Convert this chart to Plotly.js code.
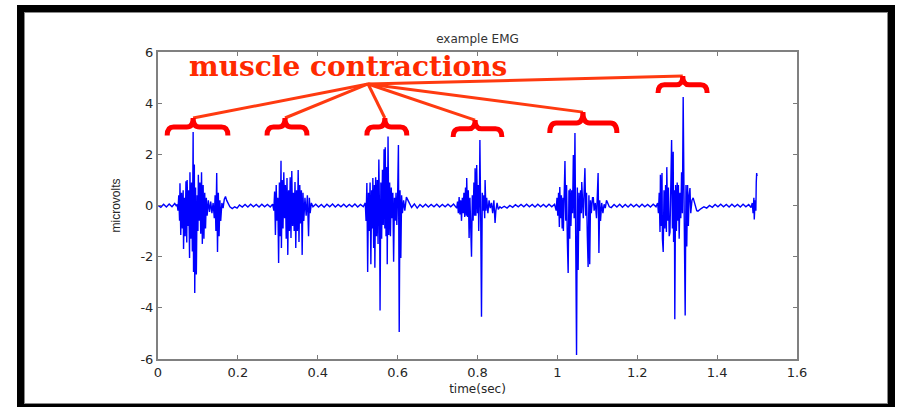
<!DOCTYPE html>
<html>
<head>
<meta charset="utf-8">
<script src="https://cdn.plot.ly/plotly-3.0.1.min.js"></script>
<style>
  html, body { margin: 0; padding: 0; background: #ffffff; }
  #wrap { position: relative; width: 901px; height: 407px; overflow: hidden; }
  #chart { position: absolute; left: 0; top: 0; width: 901px; height: 407px; }
  #frame {
    position: absolute; left: 17px; top: 5px; width: 878px; height: 406px;
    box-sizing: border-box; border: 7px solid #000000;
    box-shadow: inset 0 0 0 1px #8a8a8a; pointer-events: none;
  }
</style>
</head>
<body>
<div id="wrap">
  <div id="chart"></div>
  <div id="frame"></div>
</div>
<script>
// ---- EMG signal: [time (sec), microvolts] ----
const rest0 = [[0.000,0.00],[0.007,-0.07],[0.014,0.05],[0.021,-0.06],[0.028,0.06],[0.035,-0.05],[0.042,0.08],[0.046,-0.02]];
const burst1 = [[0.048,0.05],[0.050,-0.2],[0.052,0.4],[0.054,-0.6],[0.055,0.87],[0.057,-1.15],[0.059,0.5],[0.061,-0.9],[0.063,0.6],[0.064,-1.7],[0.066,0.3],[0.068,-1.2],[0.070,0.95],[0.072,-1.45],[0.073,1.0],[0.075,-0.8],[0.077,0.6],[0.079,-2.05],[0.080,1.3],[0.082,-1.3],[0.084,0.9],[0.086,-1.8],[0.088,2.87],[0.089,-2.6],[0.091,1.6],[0.092,-3.42],[0.094,0.7],[0.096,-2.7],[0.098,0.4],[0.100,-1.0],[0.101,1.2],[0.103,-0.6],[0.105,0.9],[0.107,-1.1],[0.109,1.3],[0.111,-1.5],[0.113,0.8],[0.115,-1.3],[0.117,0.5],[0.119,-0.9],[0.121,0.3],[0.123,-0.4],[0.126,0.2],[0.129,-0.25],[0.132,0.15],[0.135,-0.3],[0.138,0.1],[0.141,-0.5],[0.143,0.4],[0.145,-1.0],[0.147,1.27],[0.149,-1.82],[0.151,0.5],[0.153,-1.2],[0.155,0.2],[0.157,-0.6],[0.160,0.1],[0.163,-0.1],[0.166,0.25],[0.169,0.35],[0.172,0.2],[0.176,0.05]];
const rest1 = [[0.180,-0.05],[0.186,-0.12],[0.192,-0.05],[0.198,-0.1],[0.204,0.02],[0.211,-0.06],[0.218,0.04],[0.225,-0.06],[0.232,0.05],[0.239,-0.05],[0.246,0.04],[0.253,-0.06],[0.260,0.05],[0.267,-0.05],[0.274,0.04],[0.281,-0.06],[0.287,0.05]];
const burst2 = [[0.290,-0.2],[0.292,0.55],[0.294,-1.15],[0.296,0.8],[0.298,-0.6],[0.300,0.3],[0.302,-2.25],[0.304,0.9],[0.306,-1.2],[0.308,1.75],[0.309,-1.66],[0.311,1.0],[0.313,-0.9],[0.315,1.3],[0.317,-0.5],[0.319,0.8],[0.321,-1.3],[0.323,1.07],[0.325,-1.93],[0.327,0.6],[0.329,-1.0],[0.331,1.1],[0.333,-1.27],[0.335,1.35],[0.337,-0.8],[0.339,0.5],[0.341,-1.0],[0.343,0.92],[0.345,-1.66],[0.347,0.6],[0.349,-1.0],[0.351,1.39],[0.353,-1.43],[0.355,0.8],[0.357,-0.7],[0.359,0.6],[0.361,-1.93],[0.363,0.5],[0.365,-0.6],[0.368,0.3],[0.371,-0.4],[0.374,0.4],[0.377,-1.2],[0.379,0.3],[0.381,-0.3],[0.384,0.1],[0.388,-0.05]];
const rest2 = [[0.395,0.05],[0.402,-0.06],[0.409,0.04],[0.416,-0.07],[0.423,0.05],[0.430,-0.05],[0.437,0.06],[0.444,-0.06],[0.451,0.04],[0.458,-0.05],[0.465,0.05],[0.472,-0.06],[0.479,0.04],[0.486,-0.05],[0.493,0.06],[0.500,-0.06],[0.507,0.04],[0.514,-0.05]];
const burst3 = [[0.519,0.1],[0.521,-0.6],[0.523,0.88],[0.525,-2.6],[0.527,0.5],[0.529,-1.0],[0.531,0.9],[0.533,-2.3],[0.535,0.6],[0.537,-0.9],[0.538,1.07],[0.540,-1.66],[0.542,0.8],[0.543,-2.43],[0.545,1.1],[0.547,-1.2],[0.549,1.0],[0.551,-1.5],[0.553,1.8],[0.555,-0.8],[0.556,-4.1],[0.558,0.9],[0.560,-1.3],[0.562,1.4],[0.564,-0.76],[0.566,2.2],[0.568,-0.9],[0.569,2.28],[0.571,-1.2],[0.573,1.5],[0.574,-2.3],[0.576,2.7],[0.578,-1.15],[0.580,0.9],[0.582,-1.2],[0.584,0.7],[0.586,-0.5],[0.588,0.5],[0.590,-2.2],[0.592,0.3],[0.594,-0.6],[0.596,0.5],[0.598,-0.76],[0.600,0.4],[0.602,2.36],[0.604,-4.94],[0.606,0.6],[0.608,-2.05],[0.610,0.4],[0.612,-0.3],[0.615,0.2],[0.618,-0.2],[0.622,0.33],[0.626,0.2],[0.630,0.05]];
const rest3 = [[0.635,-0.08],[0.642,0.06],[0.649,-0.1],[0.656,0.04],[0.663,-0.06],[0.670,0.05],[0.677,-0.06],[0.684,0.04],[0.691,-0.05],[0.698,0.05],[0.705,-0.06],[0.712,0.04],[0.719,-0.05],[0.726,0.05],[0.733,-0.05],[0.740,0.06],[0.745,-0.03]];
const burst4 = [[0.748,-0.1],[0.750,0.15],[0.752,-0.3],[0.754,0.33],[0.756,-0.35],[0.758,0.2],[0.760,-0.6],[0.762,0.3],[0.764,-0.3],[0.766,0.5],[0.768,-0.45],[0.770,0.7],[0.772,-0.4],[0.773,1.07],[0.775,-0.45],[0.777,0.6],[0.779,-1.27],[0.781,0.3],[0.783,-0.8],[0.785,-2.0],[0.787,0.4],[0.789,-0.6],[0.791,0.9],[0.793,-0.4],[0.794,1.46],[0.796,-0.4],[0.798,1.58],[0.800,-0.3],[0.802,0.8],[0.803,-1.0],[0.805,0.6],[0.806,2.56],[0.808,-0.5],[0.810,-4.35],[0.812,0.5],[0.814,-0.2],[0.816,0.4],[0.818,-0.5],[0.819,1.0],[0.821,-0.2],[0.823,0.3],[0.826,-0.3],[0.829,0.2],[0.832,-0.1],[0.835,0.1],[0.838,-0.3],[0.841,0.2],[0.844,-0.68],[0.846,-0.2],[0.849,0.1],[0.852,-0.15],[0.856,-0.05]];
const rest4 = [[0.860,-0.1],[0.867,-0.03],[0.874,-0.1],[0.881,0.0],[0.888,-0.07],[0.895,0.03],[0.902,-0.05],[0.909,0.04],[0.916,-0.05],[0.923,0.05],[0.930,-0.05],[0.937,0.04],[0.944,-0.06],[0.951,0.05],[0.958,-0.05],[0.965,0.04],[0.972,-0.06],[0.979,0.05],[0.986,-0.05],[0.993,0.05]];
const burst5 = [[0.997,-0.2],[0.999,0.3],[1.001,-0.4],[1.003,0.5],[1.005,-0.84],[1.006,0.72],[1.008,-0.5],[1.010,0.4],[1.012,-0.9],[1.014,0.3],[1.015,-1.0],[1.017,0.9],[1.019,1.74],[1.021,-0.6],[1.023,0.8],[1.025,-1.4],[1.027,-2.64],[1.029,0.6],[1.031,-1.3],[1.032,0.65],[1.034,-0.8],[1.036,0.6],[1.038,-0.3],[1.040,1.97],[1.042,-0.5],[1.044,2.83],[1.046,-0.8],[1.048,-5.84],[1.050,0.7],[1.052,-2.52],[1.054,0.5],[1.056,-1.0],[1.058,0.6],[1.060,-0.3],[1.061,0.92],[1.063,0.2],[1.065,-0.5],[1.067,0.6],[1.069,1.46],[1.071,-0.4],[1.073,0.5],[1.075,-1.2],[1.077,-2.4],[1.079,0.4],[1.081,-2.3],[1.083,0.2],[1.085,-0.3],[1.088,0.3],[1.090,0.3],[1.092,-0.2],[1.095,0.1],[1.098,-0.5],[1.100,0.3],[1.102,1.27],[1.104,-1.86],[1.106,0.2],[1.108,-0.6],[1.111,0.1],[1.114,-0.3],[1.117,0.05],[1.120,-0.1],[1.123,0.2],[1.126,0.1],[1.130,-0.05]];
const rest5 = [[1.135,-0.08],[1.142,0.04],[1.149,-0.06],[1.156,0.05],[1.163,-0.07],[1.170,0.04],[1.177,-0.06],[1.184,0.05],[1.191,-0.05],[1.198,0.04],[1.205,-0.06],[1.212,0.05],[1.219,-0.05],[1.226,0.04],[1.233,-0.06],[1.240,0.05],[1.247,-0.05]];
const burst6 = [[1.251,0.1],[1.253,-0.3],[1.255,0.5],[1.257,-1.04],[1.258,1.2],[1.260,-0.8],[1.262,1.27],[1.263,-1.3],[1.265,-1.82],[1.267,0.6],[1.269,-0.9],[1.271,0.8],[1.273,-1.04],[1.274,1.5],[1.276,-0.6],[1.278,0.7],[1.280,-1.2],[1.282,-1.04],[1.284,0.9],[1.286,2.56],[1.288,-0.9],[1.290,2.1],[1.291,-1.43],[1.293,0.6],[1.294,-4.45],[1.296,0.8],[1.298,-1.0],[1.300,0.9],[1.302,-0.6],[1.303,0.8],[1.305,-1.3],[1.307,0.5],[1.309,-0.5],[1.311,1.3],[1.313,-0.3],[1.315,4.24],[1.317,0.5],[1.320,-4.3],[1.322,0.8],[1.324,-1.6],[1.326,0.8],[1.328,-0.8],[1.330,0.4],[1.332,0.68],[1.334,-0.3],[1.337,0.2],[1.340,0.3],[1.343,0.1],[1.346,-0.1],[1.349,-0.2],[1.352,-0.22],[1.356,-0.15]];
const rest6 = [[1.360,-0.12],[1.367,-0.05],[1.374,-0.1],[1.381,0.0],[1.388,-0.07],[1.395,0.04],[1.402,-0.05],[1.409,0.05],[1.416,-0.05],[1.423,0.04],[1.430,-0.06],[1.437,0.05],[1.444,-0.05],[1.451,0.04],[1.458,-0.06],[1.465,0.05],[1.472,-0.05],[1.479,0.04],[1.485,-0.08]];
const endSpike = [[1.488,0.1],[1.490,-0.3],[1.492,0.3],[1.493,-0.55],[1.495,0.2],[1.497,-0.2],[1.498,0.9],[1.499,1.27],[1.500,1.15]];

// ---- tick labels ----
const xTickVals = [0, 0.2, 0.4, 0.6, 0.8, 1, 1.2, 1.4, 1.6];
const xTickText = ['0', '0.2', '0.4', '0.6', '0.8', '1', '1.2', '1.4', '1.6'];
const yTickVals = [-6, -4, -2, 0, 2, 4, 6];
const yTickText = ['-6', '-4', '-2', '0', '2', '4', '6'];

// ---- annotation: braces over each contraction (time span, tip height) ----
const braceSpans = [[0.023, 0.175], [0.273, 0.373], [0.523, 0.623], [0.739, 0.861], [0.981, 1.149], [1.252, 1.375]];
const braceTips = [[0.088, 3.42], [0.318, 3.42], [0.568, 3.42], [0.794, 3.34], [1.064, 3.65], [1.314, 5.06]];
const braceDepth = [0.68, 0.68, 0.68, 0.66, 0.82, 0.66];
const labelPoint = [0.526, 4.75];

const segments = [rest0, burst1, rest1, burst2, rest2, burst3, rest3, burst4, rest4, burst5, rest5, burst6, rest6, endSpike];
const signal = [].concat(...segments);
const t = signal.map(p => p[0]);
const v = signal.map(p => p[1]);

const trace = {
  type: 'scatter', mode: 'lines', x: t, y: v,
  line: { color: '#0000ff', width: 1.4 }, hoverinfo: 'skip'
};

const shapes = [];
braceTips.forEach((tip, i) => {
  shapes.push({
    type: 'line', xref: 'x', yref: 'y',
    x0: labelPoint[0], y0: labelPoint[1], x1: tip[0], y1: tip[1],
    line: { color: '#ff3a10', width: 3 }, layer: 'above'
  });
});
braceTips.forEach((tip, i) => {
  const [x0, x1] = braceSpans[i];
  const xc = tip[0], yt = tip[1];
  const d = braceDepth[i];
  const ybar = yt - d * 0.52;
  const yb = yt - d;
  const r = 0.016;
  const path = `M ${x0},${yb} Q ${x0},${ybar} ${x0 + r},${ybar} L ${xc - r},${ybar} Q ${xc},${ybar} ${xc},${yt} ` +
               `Q ${xc},${ybar} ${xc + r},${ybar} L ${x1 - r},${ybar} Q ${x1},${ybar} ${x1},${yb}`;
  shapes.push({
    type: 'path', xref: 'x', yref: 'y', path: path,
    line: { color: '#ff0000', width: 5 }, layer: 'above'
  });
});

const axisCommon = {
  ticks: 'inside', ticklen: 4, tickwidth: 1, tickcolor: '#7a7a7a',
  showline: true, linecolor: '#808080', linewidth: 2, mirror: 'ticks',
  showgrid: false, zeroline: false, automargin: false, fixedrange: true,
  tickfont: { family: 'DejaVu Sans, Arial, sans-serif', size: 13, color: '#262626' }
};

const layout = {
  width: 901, height: 407,
  margin: { l: 158, r: 104, t: 52, b: 48 },
  paper_bgcolor: '#ffffff', plot_bgcolor: '#ffffff',
  showlegend: false,
  title: {
    text: 'example EMG', xref: 'paper', x: 0.5, xanchor: 'center',
    yref: 'container', y: 0.905, yanchor: 'middle',
    font: { family: 'DejaVu Sans, Arial, sans-serif', size: 12, color: '#333333' }
  },
  xaxis: Object.assign({}, axisCommon, {
    range: [0, 1.6], tickmode: 'array', tickvals: xTickVals, ticktext: xTickText,
    title: { text: 'time(sec)', standoff: 6, font: { family: 'DejaVu Sans, Arial, sans-serif', size: 12, color: '#262626' } }
  }),
  yaxis: Object.assign({}, axisCommon, {
    range: [-6, 6], tickmode: 'array', tickvals: yTickVals, ticktext: yTickText,
    title: { text: 'microvolts', standoff: 17, font: { family: 'Liberation Sans, Arial, sans-serif', size: 12, color: '#262626' } }
  }),
  shapes: shapes,
  annotations: [{
    text: 'muscle contractions', xref: 'x', yref: 'y', x: 0.475, y: 5.45,
    showarrow: false, xanchor: 'center', yanchor: 'middle',
    font: { family: 'DejaVu Serif, serif', size: 28, weight: 'bold', color: '#ff2a00' }
  }]
};

Plotly.newPlot('chart', [trace], layout, { displayModeBar: false, staticPlot: true });
</script>
</body>
</html>
